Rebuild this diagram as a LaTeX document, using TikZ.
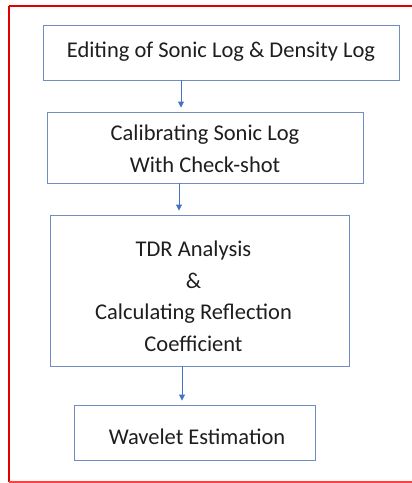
\documentclass[tikz,border=0pt]{standalone}
\usepackage{fontspec}
\setmainfont{Carlito}
\usetikzlibrary{arrows.meta}
\definecolor{boxblue}{HTML}{6F8DC4}
\definecolor{arrblue}{HTML}{4472C4}
\definecolor{txt}{HTML}{1E1E1E}
\definecolor{frame}{HTML}{E00000}
\begin{document}
\begin{tikzpicture}[x=1pt,y=-1pt,
  box/.style={draw=boxblue,line width=0.9pt,rectangle,inner sep=0pt},
  lbl/.style={align=center,text=txt,font=\fontsize{22.5}{31.5}\selectfont,inner sep=0pt},
  arr/.style={draw=arrblue,line width=0.9pt,-{Triangle[length=6pt,width=6pt]},shorten >=4pt}]
\useasboundingbox (0,0) rectangle (412,483);
\draw[frame,line width=2pt] (9,6) -- (420,6);
\draw[frame,line width=2pt] (9,6) -- (9,482);
\draw[red!75!white,line width=2pt] (9,482) -- (420,482);
\node[box,minimum width=356pt,minimum height=55pt] (b1) at (221,52.5) {};
\node[box,minimum width=316pt,minimum height=71pt] (b2) at (205,147.5) {};
\node[box,minimum width=299pt,minimum height=151pt] (b3) at (199.5,290.5) {};
\node[box,minimum width=241pt,minimum height=55pt] (b4) at (194.5,432.5) {};
\node[lbl] (t1) at ([yshift=1pt]b1.center) {Editing of Sonic Log \& Density Log};
\node[lbl] (t2) at ([yshift=-1.5pt]b2.center) {Calibrating Sonic Log\\With Check-shot};
\node[lbl] (t3) at ([xshift=-6pt,yshift=-6pt]b3.center) {TDR Analysis\\\&\\Calculating Reflection\\Coefficient};
\node[lbl] (t4) at ([xshift=2.5pt,yshift=-4.5pt]b4.center) {Wavelet Estimation};
\coordinate (a1) at (181,0);
\coordinate (a2) at (179,0);
\coordinate (a3) at (182,0);
\draw[arr] (b1.south -| a1) -- (b2.north -| a1);
\draw[arr] (b2.south -| a2) -- (b3.north -| a2);
\draw[arr] (b3.south -| a3) -- (b4.north -| a3);
\end{tikzpicture}
\end{document}
